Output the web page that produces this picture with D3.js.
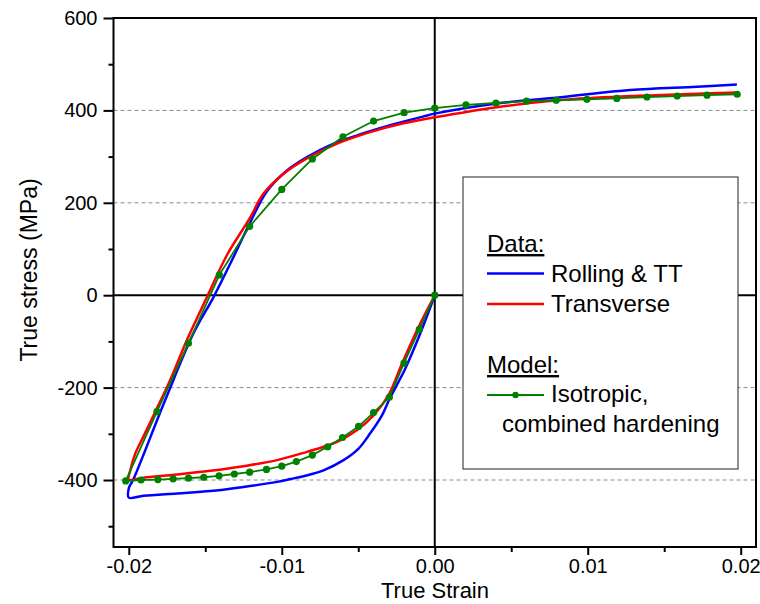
<!DOCTYPE html>
<html>
<head>
<meta charset="utf-8">
<script src="https://cdn.jsdelivr.net/npm/d3@7"></script>
<style>
    body { margin: 0; background: #fff; }
    svg { font-family: "Liberation Sans", Arial, sans-serif; }
</style>
</head>
<body>
<svg id="chart" width="760" height="604"></svg>
<script>
// [strain, stress (MPa)]
const rollingTT = [
    [0, 0], [-0.00095, -83], [-0.00193, -159], [-0.00295, -224], [-0.00345, -260],
    [-0.00422, -299], [-0.00498, -332], [-0.00596, -357], [-0.00727, -379], [-0.00814, -388],
    [-0.00944, -398], [-0.0103, -404], [-0.0125, -415], [-0.01467, -424], [-0.01685, -429],
    [-0.01903, -434], [-0.0200, -438], [-0.0200, -418], [-0.01986, -408], [-0.01968, -397],
    [-0.01762, -227], [-0.01578, -83], [-0.01446, -4], [-0.01315, 83], [-0.01206, 158],
    [-0.01097, 225], [-0.00966, 270], [-0.00835, 299], [-0.00683, 325], [-0.00508, 346],
    [-0.00291, 368], [-0.00073, 387], [0, 393], [0.00406, 415], [0.0084, 429],
    [0.01278, 444], [0.01714, 451], [0.01975, 456]
]
const transverse = [
    [0, 0], [-0.00106, -69], [-0.00214, -148], [-0.00302, -216], [-0.004, -260],
    [-0.00508, -292], [-0.00618, -314], [-0.00727, -328], [-0.00835, -339], [-0.0103, -357],
    [-0.0125, -370], [-0.01467, -380], [-0.01685, -388], [-0.01903, -395], [-0.0200, -399],
    [-0.0199, -379], [-0.01958, -343], [-0.01903, -305], [-0.01816, -245], [-0.0173, -184],
    [-0.0162, -97], [-0.01489, -4], [-0.01358, 87], [-0.01212, 165], [-0.01119, 220],
    [-0.00988, 263], [-0.00835, 296], [-0.00639, 328], [-0.00422, 353], [-0.00204, 372],
    [0, 385], [0.00406, 407], [0.0084, 423], [0.01278, 431], [0.01714, 436], [0.01975, 439]
]
const isotropicModel = [
    [0, 0], [-0.00101, -74], [-0.00201, -147], [-0.00297, -221], [-0.0040, -254],
    [-0.00498, -284], [-0.00603, -308], [-0.0070, -328], [-0.0080, -346], [-0.00905, -360],
    [-0.0100, -370], [-0.0110, -377], [-0.0121, -383], [-0.0131, -387], [-0.0141, -391],
    [-0.0151, -394], [-0.0161, -396], [-0.0171, -397.5], [-0.0181, -399], [-0.0192, -400],
    [-0.0202, -402], [-0.01816, -252], [-0.0161, -104], [-0.01408, 44], [-0.0121, 149],
    [-0.0100, 229], [-0.0080, 295], [-0.0060, 343], [-0.0040, 377], [-0.0020, 395],
    [0, 405], [0.00204, 412], [0.0040, 416], [0.0060, 420], [0.00794, 422],
    [0.00995, 424], [0.0119, 426], [0.01387, 429], [0.01585, 431], [0.0178, 433], [0.01977, 435]
]

const xTicks = [-0.02, -0.01, 0, 0.01, 0.02]
const xMinorTicks = [-0.015, -0.005, 0.005, 0.015]
const yTicks = [-400, -200, 0, 200, 400, 600]
const yMinorTicks = [-500, -300, -100, 100, 300, 500]
const gridValues = [-400, -200, 200, 400]

const svg = d3.select('#chart')
const plotLeft = 113.5, plotRight = 756, plotTop = 18, plotBottom = 547

const x = d3.scaleLinear().domain([-0.021, 0.021]).range([plotLeft, plotRight])
const y = d3.scaleLinear().domain([-545, 600]).range([plotBottom, plotTop])

svg.selectAll('.grid')
    .data(gridValues)
    .join('line')
    .attr('class', 'grid')
    .attr('x1', plotLeft).attr('x2', plotRight)
    .attr('y1', d => y(d)).attr('y2', d => y(d))
    .style('stroke', '#8a8a8a')
    .style('stroke-width', 1)
    .style('stroke-dasharray', '4,3')

svg.append('line')
    .attr('x1', plotLeft).attr('x2', plotRight)
    .attr('y1', y(0)).attr('y2', y(0))
    .style('stroke', '#000').style('stroke-width', 2)
svg.append('line')
    .attr('x1', x(0)).attr('x2', x(0))
    .attr('y1', plotTop).attr('y2', plotBottom)
    .style('stroke', '#000').style('stroke-width', 2)

const smoothLine = d3.line()
    .x(d => x(d[0]))
    .y(d => y(d[1]))
    .curve(d3.curveCatmullRom.alpha(0.5))

const line = d3.line()
    .x(d => x(d[0]))
    .y(d => y(d[1]))

svg.append('path')
    .datum(rollingTT)
    .attr('d', smoothLine)
    .style('fill', 'none').style('stroke', '#0000ff').style('stroke-width', 2.5)
    .style('stroke-linejoin', 'round')

svg.append('path')
    .datum(transverse)
    .attr('d', smoothLine)
    .style('fill', 'none').style('stroke', '#ff0000').style('stroke-width', 2.5)
    .style('stroke-linejoin', 'round')

svg.append('path')
    .datum(isotropicModel)
    .attr('d', line)
    .style('fill', 'none').style('stroke', '#008000').style('stroke-width', 1.8)

svg.selectAll('.dot')
    .data(isotropicModel)
    .join('circle')
    .attr('class', 'dot')
    .attr('cx', d => x(d[0]))
    .attr('cy', d => y(d[1]))
    .attr('r', 3.6)
    .style('fill', '#008000')

// legend
const lg = svg.append('g')
lg.append('rect')
    .attr('x', 463).attr('y', 177).attr('width', 275).attr('height', 292)
    .style('fill', '#fff').style('stroke', '#222').style('stroke-width', 1)

const legendText = (tx, ty, s, underline) => {
    const t = lg.append('text')
        .attr('x', tx).attr('y', ty)
        .text(s)
        .style('font-size', '24px')
        .style('fill', '#000')
    if (underline) t.style('text-decoration', 'underline')
}
legendText(487, 252, 'Data:', true)
legendText(551, 282, 'Rolling & TT')
legendText(551, 312, 'Transverse')
legendText(487, 373, 'Model:', true)
legendText(551, 402, 'Isotropic,')
legendText(502, 432, 'combined hardening')

lg.append('line').attr('x1', 487).attr('x2', 544).attr('y1', 273.5).attr('y2', 273.5)
    .style('stroke', '#0000ff').style('stroke-width', 2.5)
lg.append('line').attr('x1', 487).attr('x2', 544).attr('y1', 304).attr('y2', 304)
    .style('stroke', '#ff0000').style('stroke-width', 2.5)
lg.append('line').attr('x1', 487).attr('x2', 544).attr('y1', 395).attr('y2', 395)
    .style('stroke', '#008000').style('stroke-width', 1.8)
lg.append('circle').attr('cx', 515.5).attr('cy', 395).attr('r', 3.2)
    .style('fill', '#008000')

// axes
const xAxis = svg.append('g')
    .attr('transform', `translate(0,${plotBottom})`)
    .call(d3.axisBottom(x).tickValues(xTicks).tickSize(8).tickPadding(4).tickFormat(d => d.toFixed(2)))
svg.append('g')
    .attr('transform', `translate(0,${plotBottom})`)
    .call(d3.axisBottom(x).tickValues(xMinorTicks).tickSize(5).tickFormat(''))
    .call(g => g.select('.domain').remove())
    .call(g => g.selectAll('line').style('stroke-width', 2))

const yAxis = svg.append('g')
    .attr('transform', `translate(${plotLeft},0)`)
    .call(d3.axisLeft(y).tickValues(yTicks).tickSize(10).tickPadding(6).tickFormat(d => String(d)))
svg.append('g')
    .attr('transform', `translate(${plotLeft},0)`)
    .call(d3.axisLeft(y).tickValues(yMinorTicks).tickSize(5).tickFormat(''))
    .call(g => g.select('.domain').remove())
    .call(g => g.selectAll('line').style('stroke-width', 2))

;[xAxis, yAxis].forEach(g => {
    g.select('.domain').remove()
    g.selectAll('line').style('stroke-width', 2)
    g.selectAll('text')
        .style('font-size', '20px')
        .style('font-family', '"Liberation Sans", Arial, sans-serif')
        .style('fill', '#000')
})

svg.append('rect')
    .attr('x', plotLeft).attr('y', plotTop)
    .attr('width', plotRight - plotLeft).attr('height', plotBottom - plotTop)
    .style('fill', 'none').style('stroke', '#000').style('stroke-width', 2)

svg.append('text')
    .attr('x', 435).attr('y', 598)
    .attr('text-anchor', 'middle')
    .text('True Strain')
    .style('font-size', '22px')

svg.append('text')
    .attr('transform', 'translate(37,270) rotate(-90)')
    .attr('text-anchor', 'middle')
    .text('True stress (MPa)')
    .style('font-size', '23px')
</script>
</body>
</html>
